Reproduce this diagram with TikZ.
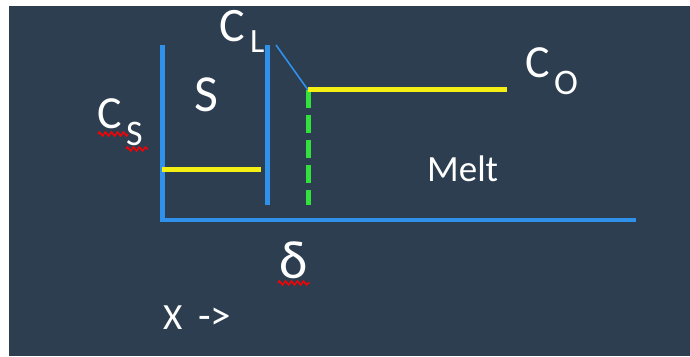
\documentclass[tikz,border=0pt]{standalone}
\usepackage{fontspec}
\setmainfont{Carlito}
\usetikzlibrary{decorations.pathmorphing}
\definecolor{slate}{RGB}{44,62,80}
\definecolor{wallblue}{RGB}{48,145,235}
\definecolor{leveyellow}{RGB}{245,240,20}
\definecolor{frontgreen}{RGB}{50,225,60}
\begin{document}
\begin{tikzpicture}[x=1pt,y=-1pt,
  every node/.style={text=white,inner sep=0pt,anchor=base west},
  wall/.style={draw=wallblue,line width=5pt},
  level/.style={draw=leveyellow,line width=5pt},
  squiggle/.style={draw=red,line width=1.4pt,decorate,decoration={zigzag,amplitude=2pt,segment length=6pt}}]
  \useasboundingbox (0,0) rectangle (690,356);
  \fill[white] (0,0) rectangle (690,356);
  \fill[slate] (9,6) rectangle (690,356);
  % axes and walls
  \coordinate (o) at (162,220);
  \coordinate (xend) at (636,220);
  \coordinate (wtop) at (162,45);
  \coordinate (itop) at (267,45);
  \coordinate (ibot) at (267,205);
  \coordinate (dtop) at (276,45);
  \coordinate (kink) at (308,90);
  \coordinate (kbot) at (308,205);
  \coordinate (costart) at (308,89);
  \coordinate (coend) at (507,89);
  \coordinate (csa) at (162,169);
  \coordinate (csb) at (261,169);
  \draw[wall,line width=4pt] ([xshift=-2pt]o) -- (xend);
  \draw[wall] (wtop) -- ([yshift=-2pt]o);
  \draw[wall] (itop) -- (ibot);
  \draw[draw=wallblue,line width=1.6pt] (dtop) -- (kink);
  \draw[draw=frontgreen,line width=5pt,dash pattern=on 18pt off 7pt] (kink) -- (kbot);
  \draw[level] (costart) -- (coend);
  \draw[level] (csa) -- (csb);
  % labels
  \node (cl) at (219,41) {\fontsize{48}{48}\selectfont C};
  \node (cls) at (250,52) {\fontsize{34}{34}\selectfont L};
  \node (sol) at (194,111) {\fontsize{52}{52}\selectfont S};
  \node (cs) at (97,128) {\fontsize{46}{46}\selectfont C};
  \node (css) at (126,145) {\fontsize{36}{36}\selectfont S};
  \node (co) at (525,77) {\fontsize{46}{46}\selectfont C};
  \node (cos) at (554,94) {\fontsize{36}{36}\selectfont O};
  \node (melt) at (427,181) {\fontsize{37}{37}\selectfont Melt};
  \node (delta) at (279,278) {\fontsize{54}{54}\selectfont δ};
  \node (xdir) at (163,329) {\fontsize{37}{37}\selectfont X\hspace{16pt}\fontsize{41}{41}\selectfont ->};
  % spell-check marks
  \draw[squiggle] (98,134) -- (128,134);
  \draw[squiggle] (126,149) -- (148,149);
  \draw[squiggle] (278,283) -- (310,283);
\end{tikzpicture}
\end{document}
